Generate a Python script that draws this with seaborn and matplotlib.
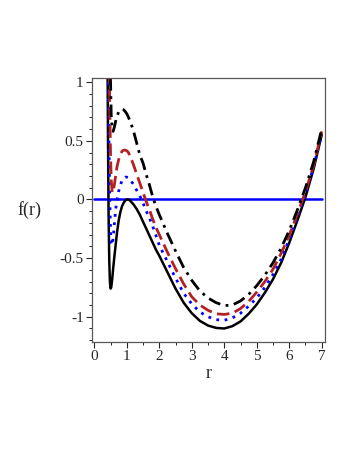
import numpy as np
import pandas as pd
import seaborn as sns
import matplotlib.pyplot as plt
from matplotlib.ticker import MultipleLocator

# r grid shared by the four curves
r = [0.40, 0.42, 0.44, 0.46, 0.48, 0.50, 0.52, 0.55, 0.58, 0.62, 0.66, 0.70,
     0.75, 0.80, 0.85, 0.90, 0.95, 1.00, 1.05, 1.10, 1.20, 1.30, 1.40, 1.50,
     1.60, 1.70, 1.80, 1.90, 2.00, 2.25, 2.50, 2.75, 3.00, 3.25, 3.50, 3.75,
     4.00, 4.25, 4.50, 4.75, 5.00, 5.25, 5.50, 5.75, 6.00, 6.25, 6.50, 6.75, 7.00]

f_solid = [1.6, 0.55, -0.15, -0.52, -0.70, -0.76, -0.75, -0.68, -0.59, -0.48, -0.38, -0.28,
           -0.18, -0.11, -0.06, -0.03, -0.01, 0.00, 0.00, -0.01, -0.04, -0.08, -0.13, -0.19,
           -0.25, -0.31, -0.37, -0.43, -0.48, -0.62, -0.76, -0.88, -0.97, -1.035, -1.075, -1.095,
           -1.10, -1.08, -1.04, -0.975, -0.895, -0.795, -0.68, -0.54, -0.37, -0.18, 0.02, 0.26, 0.55]

f_dot = [2.0, 1.3, 0.75, 0.30, -0.05, -0.27, -0.37, -0.39, -0.33, -0.20, -0.08, 0.00,
         0.07, 0.12, 0.16, 0.18, 0.19, 0.19, 0.185, 0.17, 0.13, 0.08, 0.03, -0.03,
         -0.10, -0.16, -0.23, -0.31, -0.39, -0.53, -0.67, -0.80, -0.89, -0.96, -1.00, -1.025,
         -1.03, -1.01, -0.97, -0.91, -0.84, -0.75, -0.64, -0.51, -0.34, -0.15, 0.04, 0.28, 0.56]

f_dash = [3.0, 2.2, 1.6, 1.1, 0.70, 0.38, 0.17, 0.06, 0.06, 0.13, 0.21, 0.28,
          0.34, 0.38, 0.41, 0.42, 0.42, 0.415, 0.40, 0.37, 0.30, 0.22, 0.14, 0.06,
          -0.02, -0.09, -0.17, -0.24, -0.30, -0.45, -0.59, -0.72, -0.83, -0.90, -0.945, -0.975,
          -0.98, -0.97, -0.93, -0.87, -0.79, -0.70, -0.595, -0.46, -0.305, -0.125, 0.065, 0.29, 0.58]

f_dashdot = [4.0, 3.3, 2.6, 2.0, 1.45, 1.0, 0.72, 0.59, 0.58, 0.62, 0.67, 0.71,
             0.745, 0.765, 0.77, 0.765, 0.75, 0.73, 0.70, 0.67, 0.59, 0.485, 0.38, 0.31,
             0.21, 0.12, 0.02, -0.06, -0.13, -0.29, -0.44, -0.58, -0.69, -0.78, -0.84, -0.88,
             -0.905, -0.90, -0.865, -0.81, -0.735, -0.645, -0.54, -0.415, -0.265, -0.09, 0.10, 0.32, 0.60]

r_zero = [0, 7]
f_zero = [0, 0]

sns.set_style('ticks')
plt.rcParams['font.family'] = ['Liberation Serif', 'DejaVu Serif']

fig = plt.figure(figsize=(3.54, 4.58), dpi=100)
ax = fig.add_axes([0.26, 0.2533, 0.658, 0.5764])

sns.lineplot(x=r_zero, y=f_zero, ax=ax, color='#0000ff', linewidth=1.8)
sns.lineplot(x=r, y=f_solid, ax=ax, color='black', linewidth=1.8)
sns.lineplot(x=r, y=f_dot, ax=ax, color='#0000ff', linewidth=2.0, linestyle=(0, (1, 2.0)))
sns.lineplot(x=r, y=f_dash, ax=ax, color='#b22222', linewidth=2.0, linestyle=(0, (4.5, 2)))
sns.lineplot(x=r, y=f_dashdot, ax=ax, color='black', linewidth=2.0, linestyle=(0, (4.5, 2, 1, 2)))

ax.set_xlim(-0.07, 7.1)
ax.set_ylim(-1.215, 1.035)
ax.set_xticks([0, 1, 2, 3, 4, 5, 6, 7])
ax.set_yticks([-1, -0.5, 0, 0.5, 1])
ax.set_yticklabels(['-1', '-0.5', '0', '0.5', '1'])
ax.xaxis.set_minor_locator(MultipleLocator(0.5))
ax.yaxis.set_minor_locator(MultipleLocator(0.1))
ax.tick_params(which='major', length=4, width=0.8, labelsize=11, pad=2)
ax.tick_params(which='minor', length=2.5, width=0.7)
for s in ax.spines.values():
    s.set_color('0.35')
    s.set_linewidth(0.9)

ax.set_xlabel('r', fontsize=13, labelpad=1)
ax.set_ylabel('f(r)', fontsize=13, rotation=0, labelpad=22, va='center')

plt.savefig('out.png', dpi=100)
